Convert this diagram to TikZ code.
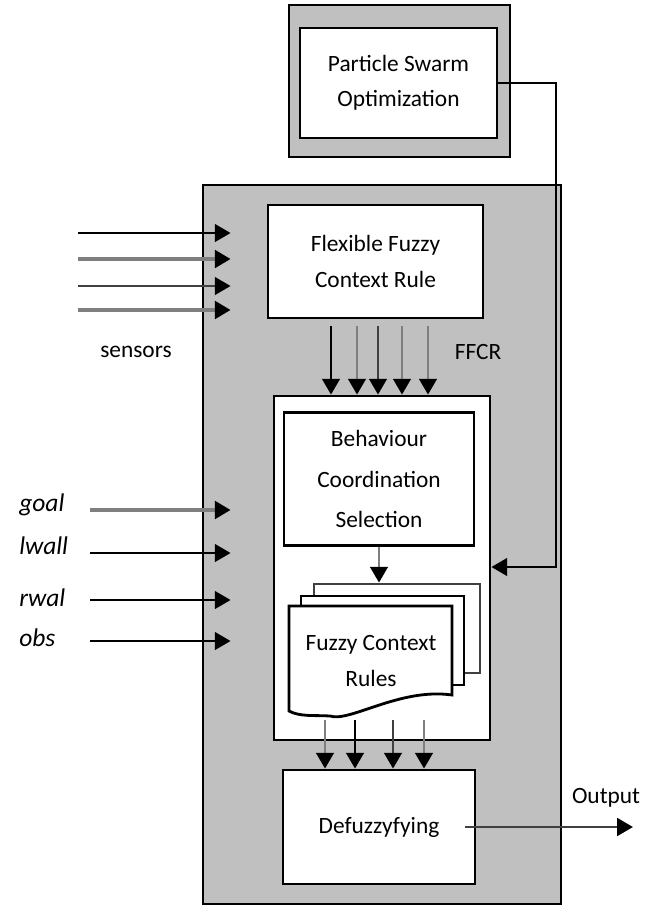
\documentclass[tikz,border=0pt]{standalone}
\usepackage{fontspec}
\setmainfont{Carlito}
\usetikzlibrary{positioning,calc,arrows.meta}
\definecolor{panel}{HTML}{C0C0C0}
\definecolor{wire}{HTML}{7F7F7F}
\definecolor{darkwire}{HTML}{404040}
\tikzstyle{every node}=[font=\fontsize{13.3}{20}\selectfont]
\tikzstyle{every path}=[line width=1.6pt,line join=miter]
\tikzset{
  blockbox/.style={draw,fill=white,align=center,inner sep=0pt},
  sig/.style={-{Triangle[length=9pt,width=10pt,color=black]}},
  inlabel/.style={anchor=west,font=\fontsize{14.5}{16}\selectfont\itshape},
}
\begin{document}
\begin{tikzpicture}
\useasboundingbox (0,0) rectangle (12.96,-18.12);

% optimiser on top
\node[draw,fill=panel,minimum width=4.42cm,minimum height=3.04cm] (psoframe) at (7.99,-1.62) {};
\node[blockbox,minimum width=3.94cm,minimum height=2.2cm] (pso) at (7.97,-1.66) {Particle Swarm\\Optimization};

% controller
\node[draw,fill=panel,minimum width=7.16cm,minimum height=14.38cm] (main) at (7.64,-10.89) {};
\node[blockbox,minimum width=4.3cm,minimum height=2.26cm] (ffcr) at (7.51,-5.23) {Flexible Fuzzy\\Context Rule};
\node[blockbox,minimum width=4.32cm,minimum height=6.88cm] (core) at (7.64,-11.36) {};
\node[blockbox,minimum width=3.8cm,minimum height=2.66cm,font=\fontsize{13.3}{23}\selectfont] (bcs) at (7.58,-9.58) {Behaviour\\Coordination\\Selection};
\node[blockbox,minimum width=3.84cm,minimum height=2.28cm] (defuzz) at (7.58,-16.54) {Defuzzyfying};

% stacked rule sheets
\node[draw=darkwire,fill=white,minimum width=3.32cm,minimum height=1.78cm] (doc3) at (7.94,-12.57) {};
\node[draw,fill=white,minimum width=3.26cm,minimum height=1.78cm] (doc2) at (7.65,-12.81) {};
\draw[fill=white] (5.78,-12.12) -- (9.04,-12.12) -- (9.04,-13.90)
  .. controls (8.0,-13.75) and (7.0,-14.45) .. (6.60,-14.32)
  .. controls (6.30,-14.30) and (6.00,-14.34) .. (5.78,-14.22) -- cycle;
\node[align=center] (fcr) at (7.42,-13.22) {Fuzzy Context\\Rules};

% ffcr outputs
\draw[sig] ($(ffcr.south)+(-0.89,-0.14)$) coordinate (f1) -- (f1 |- core.north);
\draw[sig,wire] ($(ffcr.south)+(-0.37,-0.14)$) coordinate (f2) -- (f2 |- core.north);
\draw[sig,darkwire] ($(ffcr.south)+(0.05,-0.14)$) coordinate (f3) -- (f3 |- core.north);
\draw[sig,wire] ($(ffcr.south)+(0.53,-0.14)$) coordinate (f4) -- (f4 |- core.north);
\draw[sig,wire] ($(ffcr.south)+(1.05,-0.14)$) coordinate (f5) -- (f5 |- core.north);
\node (ffcrlbl) at (9.56,-7.04) {FFCR};

\draw[sig,wire] (bcs.south) -- (bcs.south |- doc3.north);

% rule outputs
\coordinate (d1) at (6.50,-14.40);
\coordinate (d2) at (7.10,-14.40);
\coordinate (d3) at (7.86,-14.40);
\coordinate (d4) at (8.48,-14.40);
\draw[sig,wire] (d1) -- (d1 |- defuzz.north);
\draw[sig] (d2) -- (d2 |- defuzz.north);
\draw[sig,darkwire] (d3) -- (d3 |- defuzz.north);
\draw[sig,wire] (d4) -- (d4 |- defuzz.north);

% feedback from optimiser
\coordinate (fb) at (11.12,-11.34);
\draw[sig] (pso.east) -| (fb) -- (fb -| core.east);

% sensor inputs
\coordinate (s1) at (1.56,-4.66);
\coordinate (s2) at (1.56,-5.18);
\coordinate (s3) at (1.56,-5.72);
\coordinate (s4) at (1.56,-6.20);
\draw[sig] (s1) -- ($(s1 -| main.west)+(0.58,0)$);
\draw[sig,wire,line width=2.2pt] (s2) -- ($(s2 -| main.west)+(0.58,0)$);
\draw[sig,darkwire] (s3) -- ($(s3 -| main.west)+(0.58,0)$);
\draw[sig,wire,line width=2.2pt] (s4) -- ($(s4 -| main.west)+(0.58,0)$);
\node (senslbl) at (2.72,-7.04) {sensors};

% behaviour inputs
\node[inlabel] (goal) at (0.24,-10.10) {goal};
\node[inlabel] (lwall) at (0.24,-10.92) {lwall};
\node[inlabel] (rwal) at (0.24,-11.96) {rwal};
\node[inlabel] (obs) at (0.24,-12.76) {obs};
\coordinate (g1) at (1.80,-10.20);
\coordinate (g2) at (1.80,-11.06);
\coordinate (g3) at (1.80,-12.00);
\coordinate (g4) at (1.80,-12.82);
\draw[sig,wire,line width=2.2pt] (g1) -- ($(g1 -| main.west)+(0.58,0)$);
\draw[sig] (g2) -- ($(g2 -| main.west)+(0.58,0)$);
\draw[sig] (g3) -- ($(g3 -| main.west)+(0.58,0)$);
\draw[sig] (g4) -- ($(g4 -| main.west)+(0.58,0)$);

% output
\coordinate (out) at (12.66,-16.54);
\draw[sig,darkwire] ($(defuzz.east)+(-0.22,0)$) -- (out);
\node (outlbl) at (12.12,-15.96) {Output};
\end{tikzpicture}
\end{document}
